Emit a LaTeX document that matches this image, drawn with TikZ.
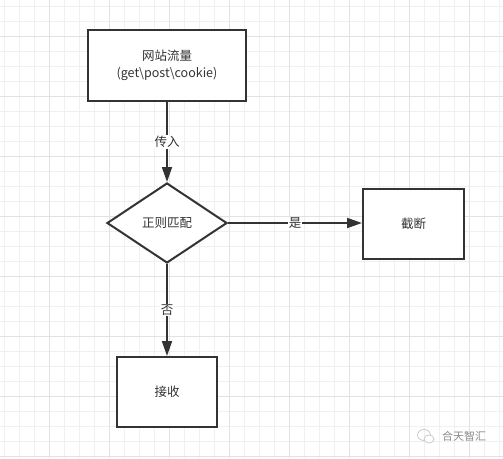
\documentclass[tikz,border=0pt]{standalone}
\usepackage{fontspec}
\setmainfont{Noto Sans CJK SC}
\usetikzlibrary{arrows.meta,shapes.geometric,calc}
\definecolor{ln}{HTML}{333333}
\definecolor{gminor}{HTML}{F0F0F0}
\definecolor{gmajor}{HTML}{E2E2E2}
\definecolor{wm}{HTML}{8A8A8A}
\begin{document}
\begin{tikzpicture}[x=1pt,y=-1pt,
  box/.style={draw=ln, line width=2pt, fill=white, inner sep=0pt, text=ln,
    font=\fontsize{12.5}{17}\selectfont, align=center},
  decision/.style={box, diamond, aspect=1.5},
  arr/.style={draw=ln, line width=1.8pt, -{Triangle[length=15pt,width=10pt]}},
  lbl/.style={fill=white, text=ln, inner sep=1pt, font=\fontsize{12.5}{15}\selectfont},
  wmtext/.style={text=wm, font=\fontsize{11}{13}\selectfont, inner sep=0pt}]
\useasboundingbox (0,0) rectangle (503,458);
\fill[white] (0,0) rectangle (503,458);
% grid
\foreach \x in {4,19,...,499} \draw[gminor, line width=0.8pt] (\x,0) -- (\x,458);
\foreach \y in {6,21,...,456} \draw[gminor, line width=0.8pt] (0,\y) -- (503,\y);
\foreach \x in {49,109,...,499} \draw[gmajor, line width=0.8pt] (\x,0) -- (\x,458);
\foreach \y in {36,96,...,456} \draw[gmajor, line width=0.8pt] (0,\y) -- (503,\y);
% nodes
\node[box, minimum width=158pt, minimum height=71pt] (src) at (167,65.5)
  {网站流量\\(get\textbackslash post\textbackslash cookie)};
\node[decision, minimum width=120pt, minimum height=80pt] (dia) at (167,223) {正则匹配};
\node[box, minimum width=101pt, minimum height=70pt] (cut) at (413.5,224) {截断};
\node[box, minimum width=100pt, minimum height=70pt] (acc) at (167,392) {接收};
% connectors
\draw[arr] (src) -- node[lbl] {传入} (dia);
\draw[arr] (dia.east) -- node[lbl] {是} (dia.east -| cut.west);
\draw[arr] (dia) -- node[lbl] {否} (acc);
% watermark
\coordinate (wmicon) at (424,435);
\draw[wm!50, line width=0.7pt] (wmicon) ellipse [x radius=6.5pt, y radius=5.5pt];
\draw[wm!50, line width=0.7pt, fill=white] ($(wmicon)+(5,4)$) ellipse [x radius=5pt, y radius=4pt];
\node[wmtext] (wmt) at (464,436) {合天智汇};
\end{tikzpicture}
\end{document}
